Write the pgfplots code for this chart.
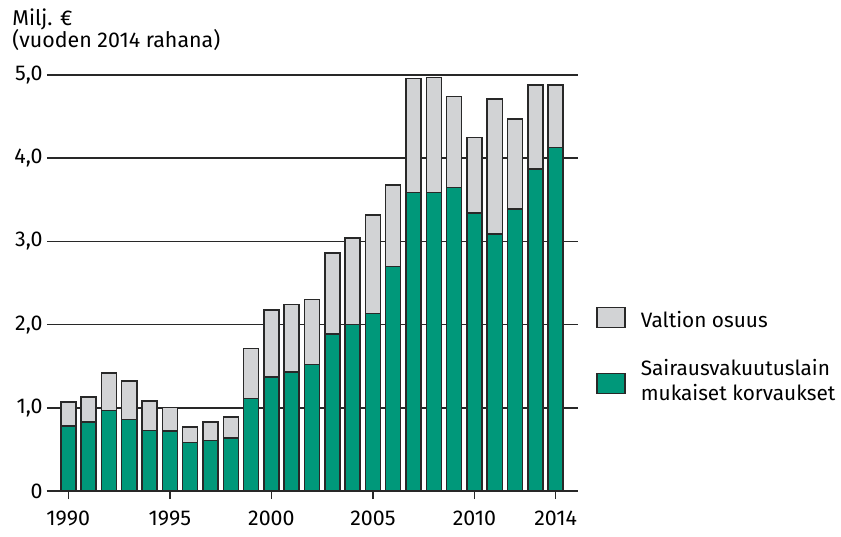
\documentclass[border=0pt]{standalone}
\usepackage{pgfplots}
\pgfplotsset{compat=1.18}
\usepackage{pgfplotstable}
\usepackage{fontspec}
\setmainfont{Fira Sans}
\definecolor{kgreen}{RGB}{0,152,122}
\definecolor{kgrey}{RGB}{210,211,213}
\definecolor{kline}{RGB}{40,40,40}

% green = korvaukset, grey = valtion osuus (milj. e)
\pgfplotstableread{
year green grey
1990 0.78  0.29
1991 0.83  0.30
1992 0.965 0.455
1993 0.86  0.46
1994 0.73  0.35
1995 0.72  0.285
1996 0.58  0.19
1997 0.61  0.22
1998 0.64  0.25
1999 1.11  0.60
2000 1.37  0.805
2001 1.43  0.81
2002 1.52  0.78
2003 1.89  0.97
2004 2.00  1.04
2005 2.135 1.185
2006 2.70  0.98
2007 3.59  1.37
2008 3.585 1.385
2009 3.65  1.09
2010 3.34  0.91
2011 3.09  1.62
2012 3.39  1.08
2013 3.87  1.01
2014 4.13  0.75
}\data

\pgfplotsset{
  greenbox/.style={legend image code/.code={\draw[##1] (0pt,-6pt) rectangle (14pt,4pt);}},
  greybox/.style={legend image code/.code={\draw[##1] (0pt,-3.5pt) rectangle (14pt,6.5pt);}},
}

\begin{document}
\begin{tikzpicture}[font=\fontsize{10.7}{12.5}\selectfont]
\path (-23.5pt,-22.5pt) rectangle (397pt,245.5pt);
\begin{axis}[
  at={(0,0)}, anchor=south west,
  scale only axis, width=265.5pt, height=208pt,
  xmin=1988.95, xmax=2015.1, ymin=0, ymax=5,
  ybar stacked, bar width=0.74,
  axis x line*=bottom, axis y line*=left,
  y axis line style={draw=none},
  x axis line style={kline, line width=0.75pt},
  ytick={0,1,2,3,4,5},
  yticklabels={0,{1,0},{2,0},{3,0},{4,0},{5,0}},
  ytick style={draw=none},
  yticklabel style={anchor=east, inner sep=0pt, xshift=2pt},
  ymajorgrids, grid style={kline, line width=0.75pt},
  xtick={1990,1995,2000,2005,2010,2014},
  xticklabels={1990,1995,2000,2005,2010,2014},
  xtick style={kline, line width=0.75pt},
  tick align=outside, major tick length=4pt,
  xticklabel style={anchor=north, inner sep=0pt, yshift=-6pt},
  clip=false,
  reverse legend,
  legend cell align=left,
  legend style={draw=none, fill=none, at={(1.0345,0.443)}, anchor=north west,
    inner sep=0pt, outer sep=0pt,
    row sep=14.5pt, nodes={inner sep=0pt, align=left},
    font=\fontsize{10.4}{12.8}\selectfont,
    /tikz/every odd column/.append style={column sep=7.5pt}},
]
\addplot[fill=kgreen, draw=kline, line width=0.75pt, greenbox]
  table[x=year, y=green]{\data};
\addplot[fill=kgrey, draw=kline, line width=0.75pt, greybox]
  table[x=year, y=grey]{\data};
\legend{Sairausvakuutuslain\\mukaiset korvaukset, Valtion osuus}
\end{axis}
\node[anchor=base west, inner sep=0pt] at (-17.5pt,232.5pt) {Milj. €};
\node[anchor=base west, inner sep=0pt] at (-17.5pt,221.5pt) {(vuoden 2014 rahana)};
\end{tikzpicture}
\end{document}
